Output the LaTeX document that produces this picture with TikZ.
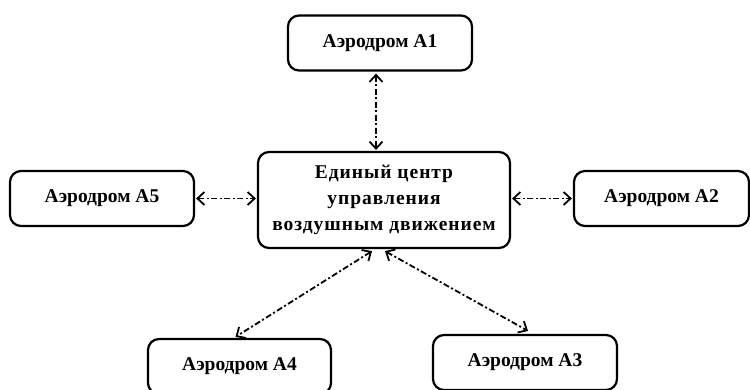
\documentclass[tikz,border=0pt]{standalone}
\usepackage{fontspec}
\setmainfont{Liberation Serif}
\usetikzlibrary{arrows.meta,calc}
\begin{document}
\begin{tikzpicture}[x=1pt,y=-1pt,
  box/.style={draw,line width=2.2pt,rounded corners=11pt,align=center,
    font=\fontsize{19.5}{26}\selectfont\bfseries,inner sep=0pt},
  link/.style={line width=1.8pt,dash pattern=on 6pt off 2.5pt on 2pt off 2.5pt,
    {Straight Barb[length=7pt,width=13pt,line width=1.8pt]}-{Straight Barb[length=7pt,width=13pt,line width=1.8pt]}}]
\useasboundingbox (0,0) rectangle (750,389);
\node[box,minimum width=184pt,minimum height=55pt] (a1) at (380,43) {Аэродром А1};
\node[box,minimum width=252pt,minimum height=96pt] (c) at (384,200) {\addfontfeature{LetterSpace=5}Единый центр\\\addfontfeature{LetterSpace=5}управления\\\addfontfeature{LetterSpace=5}воздушным движением};
\node[box,minimum width=184pt,minimum height=55pt] (a5) at (102,198.5) {Аэродром А5};
\node[box,minimum width=175pt,minimum height=55pt] (a2) at (661.5,198.5) {Аэродром А2};
\node[box,minimum width=183pt,minimum height=55pt] (a4) at (239.5,366.5) {Аэродром А4};
\node[box,minimum width=184pt,minimum height=55pt] (a3) at (525,362.5) {Аэродром А3};
\draw[link] ($(a1.south)+(-4,2)$) -- ($(c.north)+(-8,-1)$);
\draw[link] ($(a5.east)+(1,0)$) -- ($(c.west)+(-1,-1.5)$);
\draw[link] ($(c.east)+(1,-1.5)$) -- ($(a2.west)+(-1,0)$);
\draw[link] ($(c.south)+(-12,2)$) -- ($(a4.north)+(-4,-1)$);
\draw[link] ($(c.south)+(1,2)$) -- ($(a3.north)+(3,-3)$);
\end{tikzpicture}
\end{document}
